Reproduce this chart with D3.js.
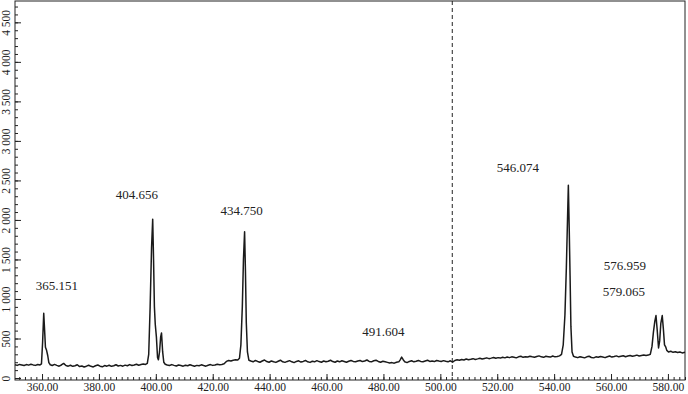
<!DOCTYPE html>
<html>
<head>
<meta charset="utf-8">
<script src="https://cdn.jsdelivr.net/npm/d3@7"></script>
<style>
  body { margin: 0; background: #fff; }
  svg { display: block; font-family: "Liberation Serif", "Times New Roman", serif; }
</style>
</head>
<body>
<div id="chart"></div>
<script>
// spectrum: [wavelength nm, intensity]
const spectrum = [
  [350.5,168],[351.3,160],[352.1,172],[352.9,165],[353.7,158],[354.5,170],[355.3,163],[356.1,175],[356.9,166],[357.7,160],[358.5,171],[359.3,165],[359.8,178],
  [360.2,450],[360.6,820],[360.9,610],[361.2,390],[361.6,350],[362.0,285],[362.4,195],[362.9,168],
  [363.6,158],[364.4,172],[365.2,160],[366.0,150],[366.8,165],[367.6,185],[368.4,158],[369.2,150],[370.0,162],[370.8,148],[371.6,155],[372.4,168],[373.2,145],[374.0,152],[374.8,140],[375.6,150],[376.4,162],[377.2,148],[378.0,140],[378.8,155],[379.6,165],[380.4,150],[381.2,142],[382.0,158],[382.8,150],[383.6,162],[384.4,148],[385.2,155],[386.0,168],[386.8,152],[387.6,160],[388.4,150],[389.2,163],[390.0,155],[390.8,170],[391.6,158],[392.4,165],[393.2,175],[394.0,162],[394.8,170],[395.6,178],[396.4,172],[397.0,185],
  [397.5,300],[398.0,900],[398.5,1650],[398.9,2010],[399.2,1500],[399.5,900],[399.8,680],[400.2,520],[400.6,260],[400.9,230],[401.3,330],[401.7,520],[402.0,570],[402.4,330],[402.8,200],[403.3,175],
  [404.0,165],[404.8,158],[405.6,170],[406.4,160],[407.2,152],[408.0,165],[408.8,158],[409.6,150],[410.4,162],[411.2,155],[412.0,168],[412.8,158],[413.6,150],[414.4,160],[415.2,155],[416.0,167],[416.8,158],[417.6,150],[418.4,162],[419.2,170],[420.0,160],[420.8,165],[421.6,175],[422.4,168],[423.2,172],[424.0,180],[424.8,210],[425.6,222],[426.4,215],[427.2,225],[428.0,230],[428.8,228],[429.4,250],
  [429.9,420],[430.4,900],[430.8,1500],[431.2,1850],[431.5,1350],[431.8,700],[432.2,330],[432.7,225],
  [433.4,215],[434.2,205],[435.0,222],[435.8,210],[436.6,200],[437.4,215],[438.2,228],[439.0,208],[439.8,200],[440.6,215],[441.4,205],[442.2,198],[443.0,212],[443.8,225],[444.6,205],[445.4,198],[446.2,210],[447.0,220],[447.8,205],[448.6,195],[449.4,210],[450.2,218],[451.0,202],[451.8,210],[452.6,222],[453.4,205],[454.2,198],[455.0,212],[455.8,205],[456.6,220],[457.4,208],[458.2,200],[459.0,215],[459.8,205],[460.6,212],[461.4,225],[462.2,208],[463.0,200],[463.8,215],[464.6,205],[465.4,218],[466.2,210],[467.0,200],[467.8,212],[468.6,222],[469.4,210],[470.2,205],[471.0,215],[471.8,222],[472.6,208],[473.4,215],[474.2,228],[475.0,210],[475.8,205],[476.6,218],[477.4,225],[478.2,210],[479.0,200],[479.8,212],[480.6,205],[481.4,198],[482.2,190],[483.0,195],[483.8,188],[484.6,200],[485.4,205],[485.9,230],[486.4,265],[486.9,235],[487.5,205],[488.3,195],[489.1,210],[489.9,218],[490.7,205],[491.5,212],[492.3,222],[493.1,210],[493.9,205],[494.7,215],[495.5,225],[496.3,210],[497.1,215],[497.9,208],[498.7,222],[499.5,215],[500.3,210],[501.1,220],[501.9,212],[502.7,205],[503.5,218],[504.3,200],
  [505.1,222],[505.9,230],[506.7,225],[507.5,235],[508.3,228],[509.1,240],[509.9,232],[510.7,238],[511.5,245],[512.3,235],[513.1,242],[513.9,250],[514.7,240],[515.5,248],[516.3,255],[517.1,245],[517.9,252],[518.7,260],[519.5,250],[520.3,258],[521.1,252],[521.9,262],[522.7,255],[523.5,265],[524.3,258],[525.1,268],[525.9,262],[526.7,255],[527.5,268],[528.3,275],[529.1,262],[529.9,270],[530.7,265],[531.5,275],[532.3,268],[533.1,262],[533.9,272],[534.7,280],[535.5,268],[536.3,262],[537.1,275],[537.9,270],[538.7,265],[539.5,278],[540.3,268],[541.1,272],[541.9,280],[542.6,300],
  [543.2,420],[543.8,800],[544.3,1400],[544.7,2000],[545.0,2440],[545.3,1900],[545.6,1300],[545.9,650],[546.3,330],[546.8,275],
  [547.5,265],[548.3,258],[549.1,270],[549.9,262],[550.7,255],[551.5,268],[552.3,275],[553.1,260],[553.9,255],[554.7,268],[555.5,262],[556.3,272],[557.1,265],[557.9,258],[558.7,270],[559.5,278],[560.3,265],[561.1,272],[561.9,280],[562.7,268],[563.5,275],[564.3,282],[565.1,270],[565.9,278],[566.7,285],[567.5,275],[568.3,282],[569.1,290],[569.9,278],[570.7,285],[571.5,292],[572.3,285],[573.1,290],[573.8,300],
  [574.4,400],[574.9,580],[575.4,720],[575.8,790],[576.2,620],[576.7,380],[577.1,470],[577.5,690],[578.0,790],[578.4,620],[578.8,420],[579.2,395],[579.6,350],[580.2,330],[581.0,338],[581.8,325],[582.6,332],[583.4,322],[584.2,330],[585.0,318],[586.0,325]
];

// peak annotations [text, wavelength, intensity] where the label sits
const peakLabels = [
  ["365.151", 365.2, 1114],
  ["404.656", 393.3, 2266],
  ["434.750", 430.2, 2063],
  ["491.604", 480.0, 532],
  ["546.074", 527.3, 2608],
  ["576.959", 564.9, 1367],
  ["579.065", 564.5, 1038]
];

const xDomain = [350.5, 586];
const yDomain = [-25, 4770];
const xTicks = [360, 380, 400, 420, 440, 460, 480, 500, 520, 540, 560, 580];
const yTicks = [0, 500, 1000, 1500, 2000, 2500, 3000, 3500, 4000, 4500];
const markerNm = 504.2;

const W = 688, H = 394;
const margin = { top: 1, right: 3, bottom: 14, left: 15 };

const svg = d3.select('#chart').append('svg')
  .attr('width', W)
  .attr('height', H);

const x = d3.scaleLinear().domain(xDomain).range([margin.left, W - margin.right]);
const y = d3.scaleLinear().domain(yDomain).range([H - margin.bottom, margin.top]);

const fmtY = d3.formatLocale({ decimal: '.', thousands: ' ', grouping: [3], currency: ['', ''] }).format(',');

// frame
svg.append('rect')
  .attr('x', margin.left)
  .attr('y', margin.top)
  .attr('width', W - margin.left - margin.right)
  .attr('height', H - margin.top - margin.bottom)
  .attr('fill', 'none')
  .attr('stroke', '#222')
  .attr('stroke-width', 1);

// x axis, minor ticks every 2 nm
svg.append('g')
  .attr('transform', 'translate(0,' + (H - margin.bottom) + ')')
  .call(d3.axisBottom(x).tickValues(d3.range(352, 587, 2)).tickSize(-3).tickFormat(''))
  .call(g => g.select('.domain').remove());

svg.append('g')
  .attr('transform', 'translate(0,' + (H - margin.bottom) + ')')
  .call(d3.axisBottom(x).tickValues(xTicks).tickSize(-6).tickPadding(3).tickFormat(d3.format('.2f')))
  .call(g => g.select('.domain').remove())
  .call(g => g.selectAll('text').attr('font-size', 11.5).attr('fill', '#222').attr('font-family', 'Liberation Serif'));

// y axis, minor ticks every 100
svg.append('g')
  .attr('transform', 'translate(' + margin.left + ',0)')
  .call(d3.axisLeft(y).tickValues(d3.range(0, 4701, 100)).tickSize(-3).tickFormat(''))
  .call(g => g.select('.domain').remove());

svg.append('g')
  .attr('transform', 'translate(' + margin.left + ',0)')
  .call(d3.axisLeft(y).tickValues(yTicks).tickSize(-6).tickFormat(fmtY))
  .call(g => g.select('.domain').remove())
  .call(g => g.selectAll('text')
    .attr('transform', 'rotate(-90)')
    .attr('x', 0)
    .attr('y', -9)
    .attr('dy', '0.35em')
    .attr('text-anchor', 'middle')
    .attr('font-size', 11.5)
    .attr('fill', '#222')
    .attr('font-family', 'Liberation Serif'));

svg.selectAll('.tick line').attr('stroke', '#222');

// dashed marker
svg.append('line')
  .attr('x1', x(markerNm))
  .attr('x2', x(markerNm))
  .attr('y1', y(yDomain[1]))
  .attr('y2', y(yDomain[0]))
  .attr('stroke', '#222')
  .attr('stroke-width', 1)
  .attr('stroke-dasharray', '4,3');

// spectrum
svg.append('path')
  .datum(spectrum)
  .attr('fill', 'none')
  .attr('stroke', '#1a1a1a')
  .attr('stroke-width', 1.5)
  .attr('stroke-linejoin', 'round')
  .attr('d', d3.line().x(d => x(d[0])).y(d => y(d[1])));

// peak labels
svg.append('g')
  .selectAll('text')
  .data(peakLabels)
  .join('text')
  .attr('x', d => x(d[1]))
  .attr('y', d => y(d[2]))
  .attr('text-anchor', 'middle')
  .attr('font-size', 13)
  .attr('fill', '#222')
  .text(d => d[0]);
</script>
</body>
</html>
